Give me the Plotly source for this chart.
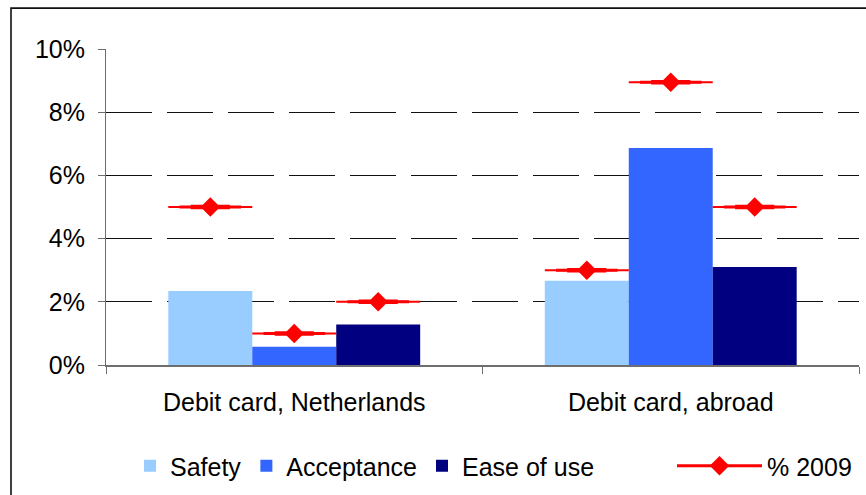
import plotly.graph_objects as go

# ---- data -------------------------------------------------------------
categories = ["Debit card, Netherlands", "Debit card, abroad"]

safety = [2.34, 2.67]
acceptance = [0.58, 6.87]
ease_of_use = [1.28, 3.10]

pct2009_safety = [5.0, 3.0]
pct2009_acceptance = [1.0, 8.95]
pct2009_ease_of_use = [2.0, 5.0]

y_tick_values = [0, 2, 4, 6, 8, 10]
y_tick_labels = ["0%", "2%", "4%", "6%", "8%", "10%"]

# ---- layout constants -------------------------------------------------
W, H = 866, 495
M_L, M_R, M_T, M_B = 106, 7, 49, 129
PLOT_W = W - M_L - M_R
PLOT_H = H - M_T - M_B
FONT = "Liberation Sans, Arial, sans-serif"
RED = "#FF0000"
GAP = 0.331


def px_x(px):
    """Pixel column -> paper x."""
    return (px - M_L) / PLOT_W


def px_y(py):
    """Pixel row -> paper y."""
    return (H - M_B - py) / PLOT_H


series = [
    ("Safety", safety, "#99CCFF", pct2009_safety),
    ("Acceptance", acceptance, "#3366FF", pct2009_acceptance),
    ("Ease of use", ease_of_use, "#000080", pct2009_ease_of_use),
]

fig = go.Figure()

for name, values, color, _ in series:
    fig.add_bar(
        x=categories, y=values, name=name,
        marker=dict(color=color, line=dict(width=0)),
        offsetgroup=name, legend="legend", hoverinfo="skip",
    )

# 2009 level: stacked dashes that get thicker towards the centre, topped
# by a diamond, all placed in the slot of the matching bar
dash_layers = [("line-ew", 60, 2.0), ("line-ew", 44, 3.0), ("line-ew", 28, 4.5)]
for name, _, _, ref in series:
    for symbol, size, lw in dash_layers:
        fig.add_scatter(
            x=categories, y=ref, mode="markers", offsetgroup=name,
            orientation="v", showlegend=False, hoverinfo="skip",
            marker=dict(symbol=symbol, size=size, color=RED,
                        line=dict(color=RED, width=lw)),
        )
    fig.add_scatter(
        x=categories, y=ref, mode="markers", offsetgroup=name,
        orientation="v", showlegend=False, hoverinfo="skip",
        marker=dict(symbol="diamond", size=15, color=RED, line=dict(width=0)),
    )

# legend entry for the 2009 markers
fig.add_scatter(
    x=[None], y=[None], mode="lines+markers", name="% 2009",
    line=dict(color=RED, width=3),
    marker=dict(symbol="diamond", size=15, color=RED),
    legend="legend2", hoverinfo="skip",
)

fig.update_layout(
    width=W, height=H,
    margin=dict(l=M_L, r=M_R, t=M_T, b=M_B, pad=0),
    paper_bgcolor="white", plot_bgcolor="white",
    font=dict(family=FONT, size=25, color="black"),
    barmode="group", bargap=GAP, bargroupgap=0,
    scattermode="group", scattergap=GAP,
    showlegend=True,
    legend=dict(
        orientation="h", x=px_x(130), y=px_y(466),
        xanchor="left", yanchor="middle",
        bgcolor="rgba(0,0,0,0)", font=dict(family=FONT, size=25),
        itemclick=False, itemdoubleclick=False,
    ),
    legend2=dict(
        orientation="h", x=px_x(672), y=px_y(466),
        xanchor="left", yanchor="middle", itemwidth=85,
        bgcolor="rgba(0,0,0,0)", font=dict(family=FONT, size=25),
        itemclick=False, itemdoubleclick=False,
    ),
    shapes=[
        # outer chart frame
        dict(type="rect", xref="paper", yref="paper",
             x0=px_x(11), x1=px_x(W + 20), y0=px_y(H + 20), y1=px_y(8),
             line=dict(color="#111111", width=1.6), fillcolor="rgba(0,0,0,0)",
             layer="below"),
    ],
)

fig.update_xaxes(
    type="category", showgrid=False, zeroline=False,
    showline=True, linecolor="#6e6e6e", linewidth=1.5,
    ticks="outside", tickson="boundaries", ticklen=7, tickcolor="#6e6e6e",
    tickfont=dict(family=FONT, size=25, color="black"),
    ticklabelstandoff=14,
)

fig.update_yaxes(
    range=[0, 10], tickvals=y_tick_values, ticktext=y_tick_labels,
    showgrid=True, gridcolor="#111111", gridwidth=1, griddash="46px,15px",
    zeroline=False, showline=True, linecolor="#6e6e6e", linewidth=1,
    ticks="outside", ticklen=7, tickcolor="#6e6e6e",
    tickfont=dict(family=FONT, size=25, color="black"),
    ticklabelstandoff=8,
)

fig.write_html("out.html")
